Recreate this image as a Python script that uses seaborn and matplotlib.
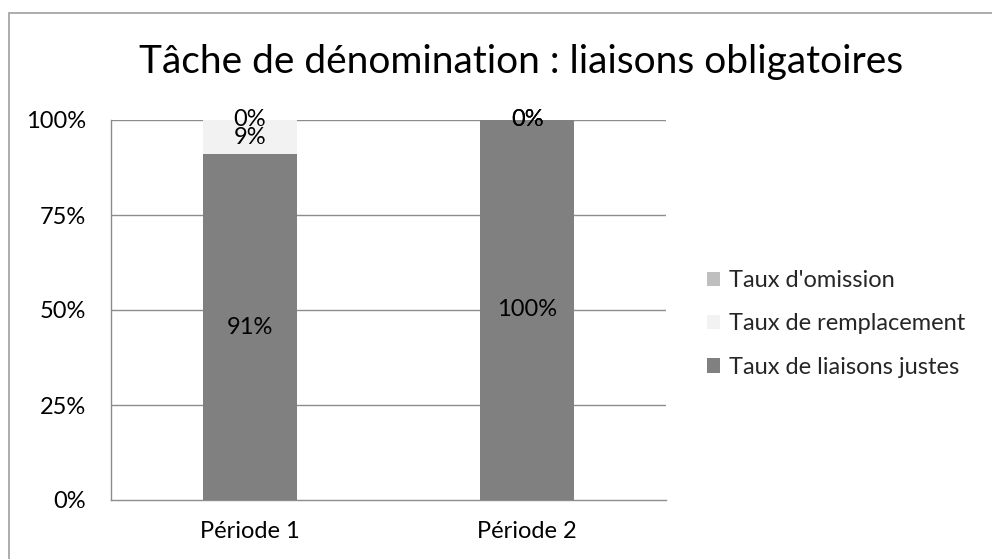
import matplotlib
matplotlib.use("Agg")
import matplotlib.pyplot as plt
import seaborn as sns
import pandas as pd
from matplotlib.patches import Rectangle, Patch

periodes = ["Période 1", "Période 2"]
liaisons_justes = [91, 100]
remplacement = [9, 0]
omission = [0, 0]

series_names = ["Taux d'omission", "Taux de remplacement", "Taux de liaisons justes"]
colors = {"Taux d'omission": "#bfbfbf",
          "Taux de remplacement": "#f2f2f2",
          "Taux de liaisons justes": "#808080"}

sns.set_theme(style="white")
plt.rcParams["font.family"] = ["Lato", "DejaVu Sans"]

FS = 17

df = pd.DataFrame({
    "periode": periodes,
    "justes": liaisons_justes,
    "remplacement": remplacement,
    "omission": omission,
})
df["cum_justes"] = df["justes"]
df["cum_rempl"] = df["justes"] + df["remplacement"]
df["cum_omis"] = df["cum_rempl"] + df["omission"]

fig = plt.figure(figsize=(9.92, 5.59), dpi=100)
ax = fig.add_axes([111 / 992, 1 - 500 / 559, (666 - 111) / 992, (500 - 120) / 559])

# Stacked bars: draw cumulative totals from the top layer down
bw = 0.34
sns.barplot(data=df, x="periode", y="cum_omis", color=colors["Taux d'omission"],
            width=bw, ax=ax, saturation=1, linewidth=0, zorder=2)
sns.barplot(data=df, x="periode", y="cum_rempl", color=colors["Taux de remplacement"],
            width=bw, ax=ax, saturation=1, linewidth=0, zorder=3)
sns.barplot(data=df, x="periode", y="cum_justes", color=colors["Taux de liaisons justes"],
            width=bw, ax=ax, saturation=1, linewidth=0, zorder=4)

# Segment value labels
for i, row in df.iterrows():
    segs = [(row["justes"], 0), (row["remplacement"], row["cum_justes"]),
            (row["omission"], row["cum_rempl"])]
    for val, base in segs:
        ax.text(i, base + val / 2, f"{val}%", ha="center", va="center",
                fontsize=FS, color="#000000", zorder=6)

ax.set_ylim(0, 100)
ax.set_xlim(-0.5, 1.5)
ax.set_yticks([0, 25, 50, 75, 100])
ax.set_yticklabels(["0%", "25%", "50%", "75%", "100%"])
ax.set_xlabel("")
ax.set_ylabel("")
ax.tick_params(axis="y", labelsize=FS, colors="#000000", length=0, pad=18)
ax.tick_params(axis="x", labelsize=FS, colors="#000000", length=0, pad=15)
for t in ax.get_xticklabels() + ax.get_yticklabels():
    t.set_color("#000000")

for y in [25, 50, 75, 100]:
    ax.axhline(y, color="#8c8c8c", linewidth=1.0, zorder=1)

for side in ["top", "right"]:
    ax.spines[side].set_visible(False)
ax.spines["left"].set_color("#8c8c8c")
ax.spines["bottom"].set_color("#8c8c8c")
ax.spines["left"].set_linewidth(1.0)
ax.spines["bottom"].set_linewidth(1.0)

fig.text(0.525, 1 - 62 / 559, "Tâche de dénomination : liaisons obligatoires",
         ha="center", va="center", fontsize=28, color="#000000")

handles = [Patch(facecolor=colors[n], edgecolor="none") for n in series_names]
leg = fig.legend(handles, series_names, loc="center left",
                 bbox_to_anchor=(698 / 992, 1 - 324 / 559), frameon=False,
                 fontsize=FS, handlelength=0.55, handleheight=0.55,
                 handletextpad=0.35, labelspacing=0.95, borderaxespad=0)

# Chart outline (right and bottom edges fall outside the canvas)
fig.patches.append(Rectangle((9 / 992, -0.05), 1.1, 1.05 - 13 / 559,
                             transform=fig.transFigure, fill=False,
                             edgecolor="#a6a6a6", linewidth=1.3))

fig.savefig("out.png", dpi=100)
